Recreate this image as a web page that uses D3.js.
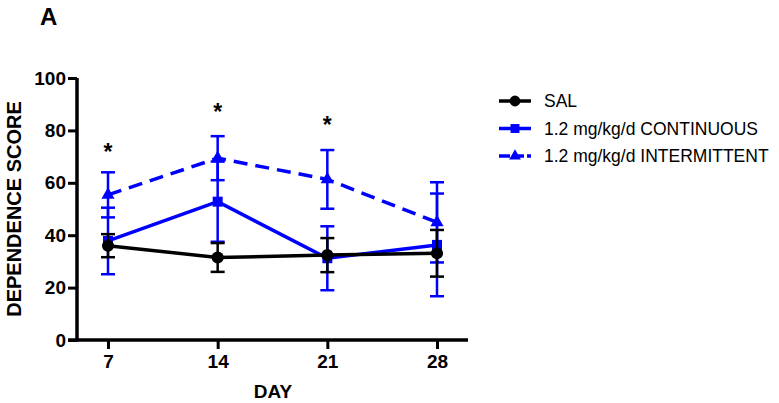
<!DOCTYPE html>
<html><head><meta charset="utf-8">
<script src="https://cdn.jsdelivr.net/npm/d3@7"></script>
<style>body{margin:0;background:#fff}svg{font-family:"Liberation Sans",Arial,sans-serif}</style>
</head><body><svg id="c" width="779" height="403"></svg>
<script>
const days = [7, 14, 21, 28];
const yTicks = [0, 20, 40, 60, 80, 100];
const salMean = [36, 31.5, 32.4, 33.1];
const salErr = [4.4, 5.5, 6.5, 8.9];
const contMean = [37.8, 52.8, 31.2, 36.3];
const contErr = [12.7, 15.3, 12.2, 19.6];
const intMean = [55.4, 69.4, 61.3, 44.9];
const intErr = [8.6, 8.4, 11.2, 15.3];
const sigDays = [7, 14, 21];
const sigY = [73.5, 89, 84];
const seriesNames = ["SAL", "1.2 mg/kg/d CONTINUOUS", "1.2 mg/kg/d INTERMITTENT"];

const svg = d3.select("#c");
const x = d3.scaleLinear().domain([7, 28]).range([108, 437]);
const y = d3.scaleLinear().domain([0, 100]).range([340, 78]);

// Axes
const xAxis = svg.append("g").attr("transform", "translate(0,340)")
  .call(d3.axisBottom(x).tickValues(days).tickSize(9).tickPadding(6));
xAxis.select(".domain").remove();
xAxis.append("line").attr("x1", 68).attr("x2", 468).attr("stroke", "#000").attr("stroke-width", 3.5);
const yAxis = svg.append("g").attr("transform", "translate(77,0)")
  .call(d3.axisLeft(y).tickValues(yTicks).tickSize(9).tickPadding(2));
yAxis.select(".domain").remove();
yAxis.append("line").attr("y1", 78).attr("y2", 341.5).attr("stroke", "#000").attr("stroke-width", 3.5);
svg.selectAll(".tick line").attr("stroke", "#000").attr("stroke-width", 3);
svg.selectAll(".tick text").attr("fill", "#000").style("font-size", "19px").style("font-weight", "bold");

svg.append("text").attr("x", 273).attr("y", 398).attr("text-anchor", "middle")
  .style("font-size", "19px").style("font-weight", "bold").text("DAY");
svg.append("text").attr("transform", "translate(21,209) rotate(-90)").attr("text-anchor", "middle")
  .style("font-size", "20px").style("font-weight", "bold").text("DEPENDENCE SCORE");
svg.append("text").attr("x", 40).attr("y", 25)
  .style("font-size", "24px").style("font-weight", "bold").text("A");

const series = [
  {name: seriesNames[2], mean: intMean, err: intErr, color: "#0000ff", dash: "14,8", marker: "triangle"},
  {name: seriesNames[1], mean: contMean, err: contErr, color: "#0000ff", dash: null, marker: "square"},
  {name: seriesNames[0], mean: salMean, err: salErr, color: "#000000", dash: null, marker: "circle"}
];
const symType = {triangle: d3.symbolTriangle, square: d3.symbolSquare, circle: d3.symbolCircle};
const symSize = {triangle: 75, square: 100, circle: 115};
const line = d3.line().x((d, i) => x(days[i])).y(d => y(d));

series.forEach(s => {
  const g = svg.append("g");
  days.forEach((d, i) => {
    const hi = y(s.mean[i] + s.err[i]), lo = y(s.mean[i] - s.err[i]), cx = x(d);
    g.append("line").attr("x1", cx).attr("x2", cx).attr("y1", hi).attr("y2", lo)
      .attr("stroke", s.color).attr("stroke-width", 2.5);
    [hi, lo].forEach(yy => g.append("line").attr("x1", cx - 7).attr("x2", cx + 7).attr("y1", yy).attr("y2", yy)
      .attr("stroke", s.color).attr("stroke-width", 2.5));
  });
  g.append("path").attr("d", line(s.mean)).attr("fill", "none").attr("stroke", s.color)
    .attr("stroke-width", 3.5).attr("stroke-dasharray", s.dash);
  days.forEach((d, i) => {
    g.append("path").attr("d", d3.symbol().type(symType[s.marker]).size(symSize[s.marker])())
      .attr("transform", `translate(${x(d)},${y(s.mean[i])})`).attr("fill", s.color);
  });
});

// significance
sigDays.forEach((d, i) => svg.append("text").attr("x", x(d)).attr("y", y(sigY[i]) + 13)
  .attr("text-anchor", "middle").style("font-size", "23px").style("font-weight", "bold").text("*"));

// legend
const legendOrder = [series[2], series[1], series[0]];
legendOrder.forEach((s, i) => {
  const ly = 101 + i * 27.5;
  const g = svg.append("g");
  g.append("line").attr("x1", 499).attr("x2", 531).attr("y1", ly).attr("y2", ly)
    .attr("stroke", s.color).attr("stroke-width", 3.5).attr("stroke-dasharray", s.dash ? "11,3" : null);
  g.append("path").attr("d", d3.symbol().type(symType[s.marker]).size(symSize[s.marker] * 0.8)())
    .attr("transform", `translate(515,${ly})`).attr("fill", s.color);
  g.append("text").attr("x", 544).attr("y", ly + 6).style("font-size", "17.5px").text(s.name);
});
</script></body></html>
